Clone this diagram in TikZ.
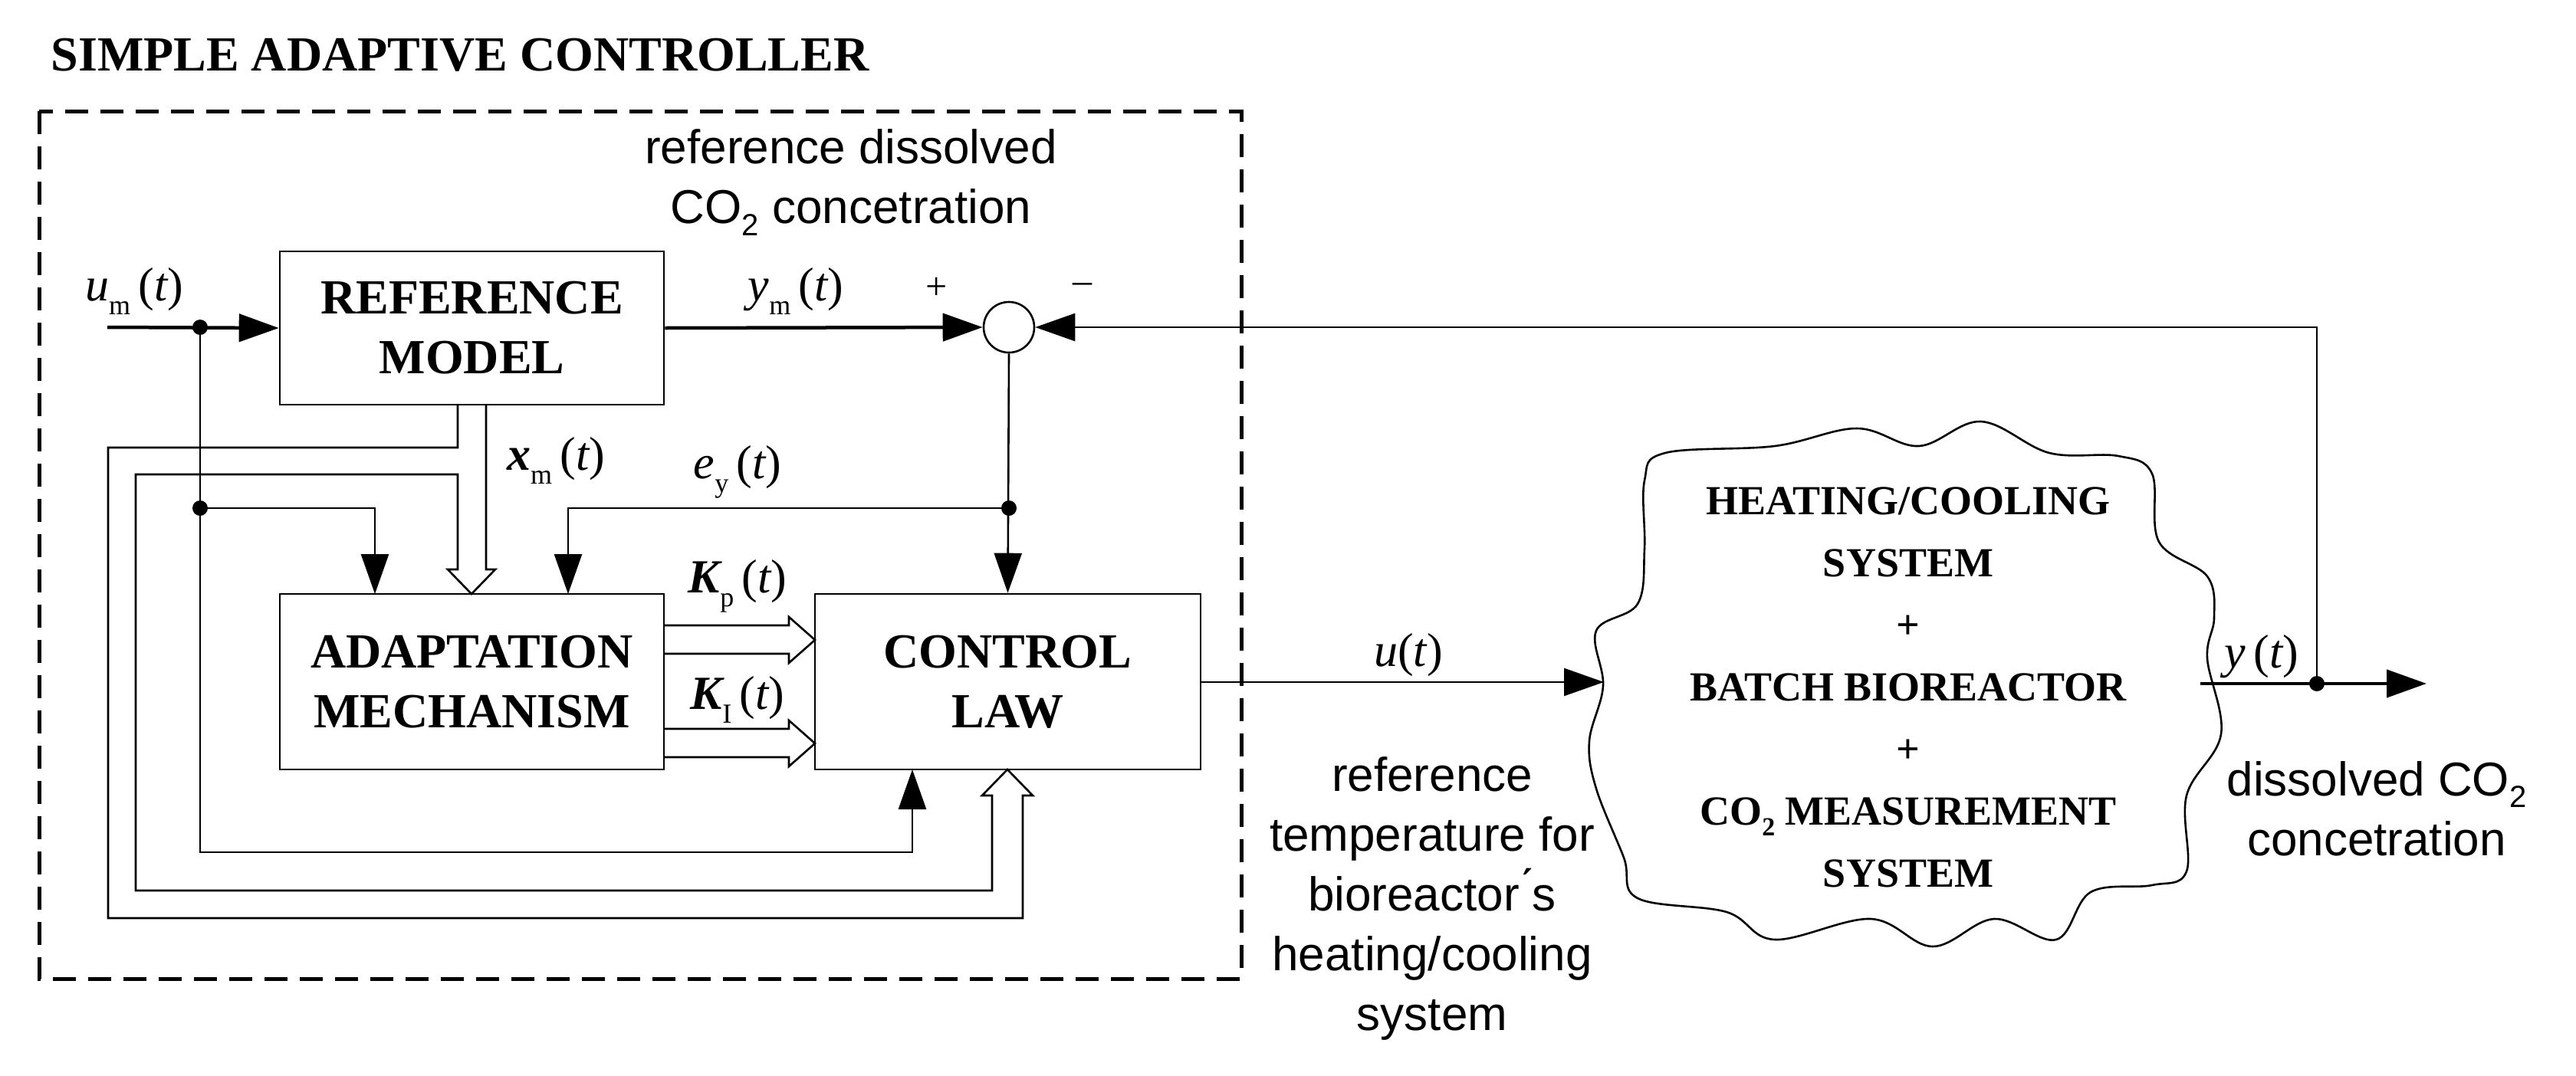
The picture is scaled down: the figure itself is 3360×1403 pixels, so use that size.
\documentclass[tikz,border=0pt]{standalone}
\usepackage{fontspec}
\setmainfont{Liberation Serif}
\newfontfamily\sansf{Liberation Sans}
\usetikzlibrary{arrows.meta}
\newcommand{\sigl}[2]{{\itshape #1}\raisebox{-0.3em}{\fontsize{36}{36}\selectfont #2}\,({\itshape t})}
\newcommand{\sigb}[2]{{\bfseries\itshape #1}\raisebox{-0.3em}{\fontsize{36}{36}\selectfont #2}\,({\itshape t})}
\begin{document}
\begin{tikzpicture}[x=1pt,y=-1pt,
  thin line/.style={line width=2.6pt},
  thick line/.style={line width=4.5pt},
  arr/.style={-{Triangle[length=52pt,width=36pt]}},
  box/.style={draw,line width=2.6pt,font=\fontsize{64}{78}\selectfont\bfseries,align=center,inner sep=0pt},
  sig/.style={font=\fontsize{62}{62}\selectfont},
  note/.style={font=\sansf\fontsize{62}{78}\selectfont,align=center},
  dot/.style={circle,fill=black,inner sep=0pt,minimum size=20pt}]
\useasboundingbox (0,0) rectangle (3360,1403);
% title
\node[anchor=base west,font=\fontsize{64}{64}\selectfont\bfseries] (title) at (63,92) {SIMPLE ADAPTIVE CONTROLLER};
% dashed frame
\draw[line width=5pt,dash pattern=on 30pt off 16pt] (51,145) rectangle (1619,1277);
% blocks
\node[box,minimum width=501pt,minimum height=200pt] (ref) at (615.5,428) {REFERENCE\\MODEL};
\node[box,minimum width=501pt,minimum height=229pt] (adp) at (615.5,889.5) {ADAPTATION\\MECHANISM};
\node[box,minimum width=503pt,minimum height=229pt] (ctl) at (1314.5,889.5) {CONTROL\\LAW};
\node[draw,circle,line width=2.6pt,minimum size=66pt,inner sep=0pt] (sum) at (1316,427) {};
% cloud
\node[minimum width=790pt,minimum height=660pt] (plant) at (2485,893) {};
\draw[line width=2.6pt] plot[smooth cycle,tension=0.6] coordinates {
 (2145,627) (2172,591) (2315,582) (2422,559) (2503,582) (2584,550) (2673,591) (2763,595)
 (2807,618) (2816,707) (2879,752) (2888,806) (2879,859) (2897,958) (2852,1038) (2852,1137)
 (2807,1155) (2727,1164) (2682,1226) (2601,1199) (2521,1235) (2440,1199) (2315,1226) (2252,1190)
 (2136,1172) (2118,1119) (2082,1029) (2073,967) (2091,895) (2082,823) (2136,788) (2145,716)};
\node[font=\fontsize{54}{81}\selectfont\bfseries,align=center] (ptext) at (2489,897)
  {HEATING/COOLING\\SYSTEM\\+\\BATCH BIOREACTOR\\+\\CO\raisebox{-0.25em}{\fontsize{34}{34}\selectfont 2} MEASUREMENT\\SYSTEM};
% coordinates
\coordinate (in) at (140,427);
\coordinate (j1) at (261,427);
\coordinate (j2) at (261,663);
\coordinate (j3) at (1316,663);
\coordinate (j4) at (3022,892);
\coordinate (out) at (3165,892);
\node[dot] at (j1) {};
\node[dot] at (j2) {};
\node[dot] at (j3) {};
\node[dot] at (j4) {};
% main signal path
\draw[thick line,arr] (in) -- (ref.west);
\draw[thick line,arr] (ref.east) -- (sum.west);
\draw[thin line,arr] (ctl.east |- 0,890) -- (2092,890);
\draw[thick line] (2870,892) -- (j4);
\draw[thick line,arr] (j4) -- (out);
\draw[thin line,arr] (j4) -- (3022,427) -- (sum.east);
% error
\draw[thin line,arr] (sum.south) -- (ctl.north);
\draw[thin line,arr] (j3) -- (741,663) -- (741,775);
% um branches
\draw[thin line,arr] (j2) -- (489,663) -- (489,775);
\draw[thin line,arr] (j1) -- (261,1112) -- (1190,1112) -- (1190,1004);
% xm hollow arrow and state bus
\draw[thin line,line join=miter] (634,528) -- (634,743) -- (646,743) -- (615,775) -- (584,743) -- (597,743) -- (597,619) -- (177,619) -- (177,1162) -- (1294,1162) -- (1294,1038) -- (1281,1038) -- (1314,1004) -- (1347,1038) -- (1334,1038) -- (1334,1198) -- (141,1198) -- (141,584) -- (597,584) -- (597,528);
% Kp, KI hollow arrows
\draw[thin line,line join=miter] (866,816) -- (1029,816) -- (1029,805) -- (1063,835) -- (1029,865) -- (1029,853) -- (866,853);
\draw[thin line,line join=miter] (866,951) -- (1029,951) -- (1029,940) -- (1063,970) -- (1029,1000) -- (1029,988) -- (866,988);
% labels
\node[sig] (lum) at (175,380) {\sigl{u}{m}};
\node[sig] (lym) at (1038,380) {\sigl{y}{m}};
\node[sig] (lxm) at (725,601) {\sigb{x}{m}};
\node[sig] (ley) at (962,616) {\sigl{e}{y}};
\node[sig] (lkp) at (962,765) {\sigb{K}{p}};
\node[sig] (lki) at (962,913) {\sigb{K}{I}};
\node[sig] (lu) at (1837,855) {{\itshape u}({\itshape t})};
\node[sig] (ly) at (2950,857) {{\itshape y}\,({\itshape t})};
\node[font=\fontsize{50}{50}\selectfont] (plus) at (1222,376) {+};
\node[font=\fontsize{50}{50}\selectfont] (minus) at (1412,376) {\textendash};
\node[note] (n1) at (1110,238) {reference dissolved\\CO\raisebox{-0.25em}{\fontsize{40}{40}\selectfont 2} concetration};
\node[note] (n2) at (1868,1172) {reference\\temperature for\\bioreactor\'{}s\\heating/cooling\\system};
\node[note] (n3) at (3100,1055) {dissolved CO\raisebox{-0.25em}{\fontsize{40}{40}\selectfont 2}\\concetration};
\end{tikzpicture}
\end{document}
